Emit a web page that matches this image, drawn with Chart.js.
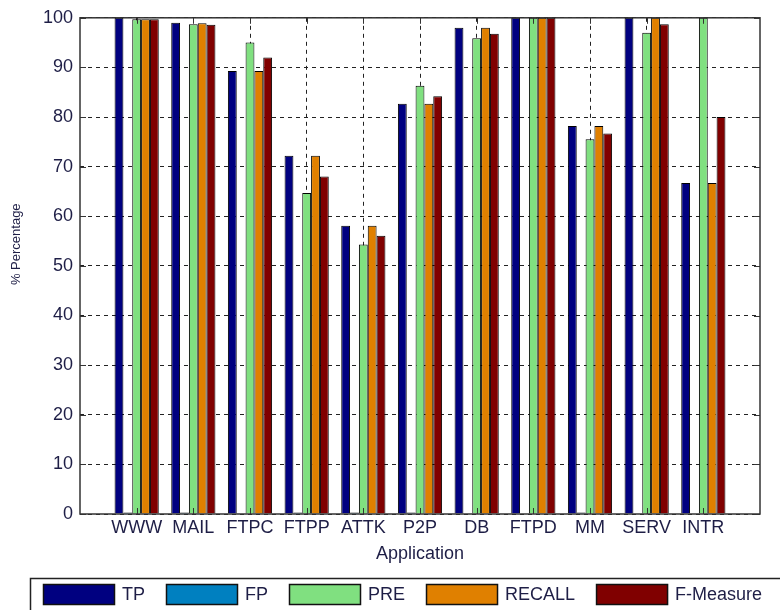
<!DOCTYPE html>
<html>
<head>
<meta charset="utf-8">
<script src="https://cdn.jsdelivr.net/npm/chart.js@4"></script>
<style>
  body { margin: 0; background: #fff; }
</style>
</head>
<body>
<canvas id="appChart" width="780" height="610"></canvas>
<script>
// values
const applications = ['WWW', 'MAIL', 'FTPC', 'FTPP', 'ATTK', 'P2P', 'DB', 'FTPD', 'MM', 'SERV', 'INTR'];
const tpValues = [100, 99.0, 89.3, 72.2, 58.1, 82.7, 98.0, 100, 78.2, 100, 66.7];
const fpValues = [0.3, 0.3, 0, 0.3, 0.3, 0.3, 0, 0, 0.3, 0, 0];
const preValues = [99.7, 98.7, 95.0, 64.7, 54.3, 86.3, 95.9, 100, 75.5, 97.0, 100];
const recallValues = [99.7, 98.9, 89.3, 72.2, 58.1, 82.7, 98.0, 100, 78.2, 100, 66.7];
const fMeasureValues = [99.7, 98.6, 92.0, 68.0, 56.1, 84.2, 96.8, 100, 76.7, 98.7, 80.0];

const seriesNames = ['TP', 'FP', 'PRE', 'RECALL', 'F-Measure'];
const seriesColors = ['#000080', '#0080c0', '#80e080', '#e08000', '#800000'];
const seriesValues = [tpValues, fpValues, preValues, recallValues, fMeasureValues];

const fontFamily = "'Liberation Sans', Arial, sans-serif";
const textColor = '#1e1e46';

//bars sit on a linear x axis at 1..11 so the matlab-like margins come out right
const datasets = seriesNames.map((name, s) => ({
    label: name,
    data: seriesValues[s].map((v, i) => ({ x: i + 1, y: v })),
    backgroundColor: seriesColors[s],
    borderColor: '#000',
    borderWidth: 1,
    categoryPercentage: 0.78,
    barPercentage: 1.0
}));

//box round the axes plus the little inner tick marks
const framePlugin = {
    id: 'frame',
    afterDatasetsDraw(chart) {
        const { ctx, chartArea: a, scales: { x, y } } = chart;
        ctx.save();
        ctx.setLineDash([]);
        ctx.strokeStyle = '#333';
        ctx.lineWidth = 1;
        ctx.beginPath();
        y.ticks.forEach(t => {
            const py = Math.round(y.getPixelForValue(t.value)) + 0.5;
            ctx.moveTo(a.left, py); ctx.lineTo(a.left + 6, py);
            ctx.moveTo(a.right - 6, py); ctx.lineTo(a.right, py);
        });
        x.ticks.forEach(t => {
            const px = Math.round(x.getPixelForValue(t.value)) + 0.5;
            ctx.moveTo(px, a.bottom); ctx.lineTo(px, a.bottom - 6);
            ctx.moveTo(px, a.top); ctx.lineTo(px, a.top + 6);
        });
        ctx.stroke();
        ctx.lineWidth = 1.5;
        ctx.strokeRect(a.left, a.top, a.right - a.left, a.bottom - a.top);
        ctx.restore();
    }
};

//legend box under the chart, runs off the right and bottom edge like the original
const legendPlugin = {
    id: 'boxLegend',
    afterDraw(chart) {
        const ctx = chart.ctx;
        ctx.save();
        ctx.strokeStyle = '#222';
        ctx.lineWidth = 1.5;
        ctx.beginPath();
        ctx.moveTo(30.5, chart.height);
        ctx.lineTo(30.5, 578.5);
        ctx.lineTo(chart.width, 578.5);
        ctx.stroke();

        ctx.font = '18px ' + fontFamily;
        ctx.textBaseline = 'middle';
        ctx.textAlign = 'left';
        let cx = 43;
        chart.data.datasets.forEach(ds => {
            ctx.fillStyle = ds.backgroundColor;
            ctx.fillRect(cx, 584, 72, 21);
            ctx.lineWidth = 1.5;
            ctx.strokeStyle = '#111';
            ctx.strokeRect(cx + 0.5, 584.5, 71, 20);
            ctx.fillStyle = textColor;
            ctx.fillText(ds.label, cx + 79, 595);
            cx += 79 + ctx.measureText(ds.label).width + 21;
        });
        ctx.restore();
    }
};

new Chart(document.getElementById('appChart'), {
    type: 'bar',
    data: { datasets: datasets },
    options: {
        responsive: false,
        animation: false,
        layout: { padding: { top: 17, right: 20, bottom: 40, left: 0 } },
        plugins: {
            legend: { display: false },
            tooltip: { enabled: false }
        },
        scales: {
            x: {
                type: 'linear',
                min: 0,
                max: 12,
                offset: false,
                afterBuildTicks: scale => {
                    scale.ticks = applications.map((c, i) => ({ value: i + 1 }));
                },
                afterFit: scale => { scale.height = 56; },
                grid: { color: '#222', lineWidth: 1, drawTicks: false, offset: false },
                border: { display: false, dash: [4, 4] },
                ticks: {
                    autoSkip: false,
                    maxRotation: 0,
                    minRotation: 0,
                    padding: 3,
                    color: textColor,
                    font: { family: fontFamily, size: 18 },
                    callback: value => applications[value - 1]
                },
                title: {
                    display: true,
                    text: 'Application',
                    color: textColor,
                    font: { family: fontFamily, size: 18 },
                    padding: { top: 0, bottom: 5 }
                }
            },
            y: {
                min: 0,
                max: 100,
                afterFit: scale => { scale.width = 80; },
                grid: { color: '#222', lineWidth: 1, drawTicks: false },
                border: { display: false, dash: [4, 4] },
                ticks: {
                    stepSize: 10,
                    padding: 7,
                    color: textColor,
                    font: { family: fontFamily, size: 18 }
                },
                title: {
                    display: true,
                    text: '            % Percentage',
                    color: textColor,
                    font: { family: fontFamily, size: 13 },
                    padding: { top: 9, bottom: 0 }
                }
            }
        }
    },
    plugins: [framePlugin, legendPlugin]
});
</script>
</body>
</html>
